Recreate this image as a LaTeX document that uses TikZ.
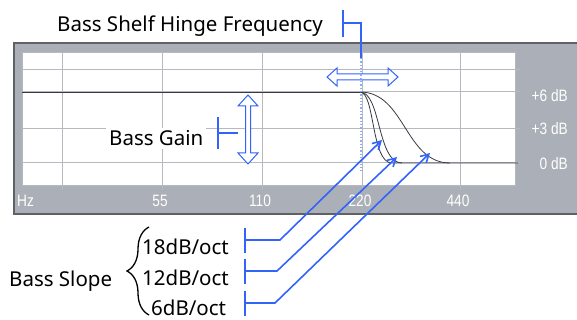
\documentclass[tikz,border=0pt]{standalone}
\usepackage{fontspec}
\setmainfont{Noto Sans}
\newfontfamily\axisfont{Liberation Sans}[FakeStretch=0.83]
\usetikzlibrary{arrows.meta,decorations.pathreplacing}
\definecolor{panelgray}{RGB}{171,175,183}
\definecolor{gridgray}{RGB}{182,185,191}
\definecolor{curvegray}{RGB}{55,58,64}
\definecolor{callblue}{RGB}{50,100,250}

\begin{document}
\begin{tikzpicture}[x=1pt, y=-1pt, >={Straight Barb[length=8pt,width=9pt]},
    label/.style={font=\fontsize{20.5}{20.5}\selectfont, inner sep=0pt},
    axis/.style={font=\axisfont\fontsize{16.5}{16.5}\selectfont, text=white, inner sep=0pt},
    tee/.style={callblue, line width=2pt},
    lead/.style={callblue, line width=1.6pt},
    hollow/.style={draw=callblue, fill=white, line width=1pt, line join=miter}]
    \useasboundingbox (0,0) rectangle (577,320);

    % panel and plot area
    \fill[panelgray] (14,43) rectangle (577,214);
    \draw[curvegray!80, line width=1.5pt] (577,43) -- (14,43) -- (14,214) -- (577,214);
    \draw[fill=white, draw=gridgray] (22,52) rectangle (515,185);

    \foreach \y in {70,92,129,163} {
        \draw[gridgray, line width=1pt] (22,\y) -- (520,\y);
    }
    \foreach \x/\f in {62/,162/55,262/110,362/220,460/440} {
        \draw[gridgray, line width=1pt] (\x,52) -- (\x,190);
        \node[axis] (f\x) at (\x-2,201) {\f};
    }
    \node[axis, anchor=west] (hz) at (17,201) {Hz};
    \foreach \y/\g in {96/+6 dB,129/+3 dB,163.5/0 dB} {
        \node[axis, anchor=east] at (568,\y) {\g};
    }

    % response curves
    \coordinate (hinge) at (360,92);
    \draw[curvegray, line width=0.8pt] (22,92) -- (hinge);
    \draw[curvegray, line width=0.8pt] (hinge) .. controls (375,92) and (371,163) .. (392,163) -- (518,163);
    \draw[curvegray, line width=0.8pt] (hinge) .. controls (381,92) and (377,163) .. (402,163);
    \draw[curvegray, line width=0.8pt] (hinge) .. controls (405,92) and (405,163) .. (450,163);

    % hollow double arrows
    \draw[hollow] (327,77) -- ++(10,-9) -- ++(0,6) -- (388,74) -- ++(0,-6) -- (398,77)
        -- ++(-10,9) -- ++(0,-6) -- (337,80) -- ++(0,6) -- cycle;
    \draw[hollow] (248,95) -- ++(10,11) -- ++(-7.5,0) -- (250.5,153) -- ++(7.5,0) -- (248,164)
        -- ++(-10,-11) -- ++(7.5,0) -- (245.5,106) -- ++(-7.5,0) -- cycle;

    % hinge frequency callout
    \node[label, anchor=base west] (hingelabel) at (57,32) {Bass Shelf Hinge Frequency};
    \coordinate (hingetee) at (343,23);
    \coordinate (hingetop) at (361,58);
    \draw[tee] (343,10) -- (343,37);
    \draw[lead] (hingetee) -| (hingetop);
    \draw[callblue!55, dotted, line width=1.3pt] (hingetop) -- (361,172);

    % gain callout
    \node[label, anchor=base west, fill=white, inner sep=3pt] (gainlabel) at (106,146) {Bass Gain};
    \coordinate (gaintee) at (218,133);
    \draw[tee] (218,117) -- (218,149);
    \draw[lead] (gaintee) -- (238,133);

    % slope callouts
    \node[label, anchor=base west] (slopelabel) at (9,286) {Bass Slope};
    \node[label, anchor=base west] (s18) at (142,254) {18dB/oct};
    \node[label, anchor=base west] (s12) at (142,285) {12dB/oct};
    \node[label, anchor=base west] (s6) at (151,315) {6dB/oct};
    \draw[decorate, decoration={brace, amplitude=22pt}, line width=1.3pt] (149,315) -- (149,227);

    \foreach \n/\y/\bx/\tx/\ty in {18/240/280/382/140, 12/271/277/397/157, 6/303/275/430/153} {
        \coordinate (tee\n) at (245,\y);
        \coordinate (bend\n) at (\bx,\y);
        \coordinate (tip\n) at (\tx,\ty);
        \draw[tee] (245,\y-12.5) -- (245,\y+12.5);
        \draw[lead, ->] (tee\n) -- (bend\n) -- (tip\n);
    }
\end{tikzpicture}
\end{document}
